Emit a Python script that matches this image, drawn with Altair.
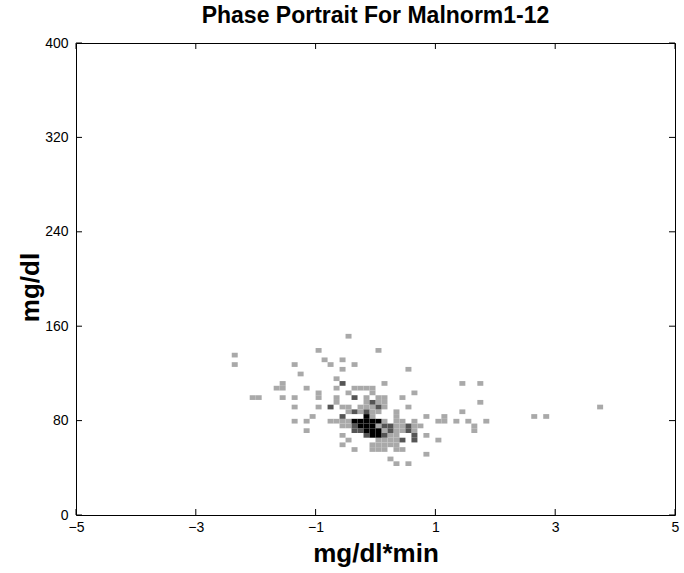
import altair as alt
import pandas as pd

# Axis ticks
x_ticks = [-5, -3, -1, 1, 3, 5]
y_ticks = [0, 80, 160, 240, 320, 400]

# 2-D histogram cells (centre in mg/dl*min, centre in mg/dl)
light_cells = [
    (-2.35, 135.5), (-2.35, 127.5), (-0.95, 139.5), (-0.85, 131.5), (-0.75, 127.5),
    (-1.35, 127.5), (-1.25, 119.5), (-1.55, 111.5), (-1.65, 107.5), (-1.55, 107.5),
    (-1.15, 107.5), (-2.05, 99.5), (-1.95, 99.5), (-1.55, 99.5), (-1.35, 99.5),
    (-0.95, 103.5), (-0.95, 99.5), (-1.35, 91.5), (-0.95, 91.5), (-1.05, 83.5),
    (-1.35, 79.5), (-1.15, 79.5), (-1.15, 71.5),
    (-0.45, 151.5), (0.05, 139.5), (-0.55, 131.5), (-0.55, 123.5), (-0.35, 127.5),
    (0.55, 123.5), (-0.65, 115.5), (0.15, 111.5), (-0.65, 107.5), (-0.35, 107.5),
    (-0.25, 107.5), (-0.15, 107.5), (-0.05, 107.5), (-0.05, 103.5), (-0.45, 103.5),
    (0.65, 103.5),
    (-0.65, 99.5), (-0.65, 95.5), (-0.15, 99.5), (-0.15, 95.5), (-0.15, 91.5),
    (0.05, 99.5), (0.15, 99.5), (0.05, 95.5), (0.15, 95.5), (0.45, 99.5),
    (-0.55, 91.5), (-0.45, 91.5), (-0.25, 91.5), (-0.05, 91.5), (0.15, 91.5), (0.55, 91.5),
    (-0.45, 87.5), (-0.25, 87.5), (-0.05, 87.5), (0.05, 87.5), (0.35, 87.5),
    (-0.05, 83.5), (0.35, 83.5),
    (-0.75, 79.5), (-0.65, 79.5), (-0.55, 79.5), (-0.45, 79.5), (0.15, 79.5),
    (0.35, 79.5), (0.45, 79.5), (0.65, 79.5),
    (-0.55, 75.5), (-0.45, 75.5), (0.05, 75.5), (0.35, 75.5), (0.45, 75.5),
    (0.65, 75.5), (0.75, 75.5),
    (0.15, 71.5), (0.35, 71.5), (0.45, 71.5), (0.65, 71.5),
    (-0.55, 67.5), (0.25, 67.5), (0.35, 67.5),
    (-0.45, 63.5), (0.05, 63.5), (0.15, 63.5), (0.25, 63.5), (0.35, 63.5),
    (-0.55, 59.5), (-0.05, 59.5), (0.05, 59.5), (0.15, 59.5), (0.25, 59.5), (0.35, 59.5),
    (-0.35, 55.5), (-0.05, 55.5), (0.05, 55.5), (0.15, 55.5), (0.35, 55.5), (0.45, 55.5),
    (0.25, 47.5), (0.35, 43.5), (0.55, 43.5),
    (1.45, 111.5), (1.75, 111.5), (1.75, 95.5), (1.45, 87.5), (0.85, 83.5),
    (1.15, 83.5), (1.05, 79.5), (1.15, 79.5), (1.35, 79.5), (1.55, 79.5),
    (1.65, 75.5), (1.65, 71.5), (1.85, 79.5), (2.65, 83.5), (2.85, 83.5),
    (3.75, 91.5), (0.85, 67.5), (1.05, 63.5), (0.85, 51.5),
]
dark_cells = [
    (-0.55, 111.5), (-0.35, 99.5), (-0.05, 95.5), (-0.75, 91.5), (0.05, 91.5),
    (-0.35, 87.5), (-0.15, 87.5), (-0.55, 83.5), (-0.35, 75.5), (-0.35, 71.5),
    (-0.25, 71.5), (0.15, 75.5), (0.25, 75.5), (0.25, 71.5), (0.55, 75.5),
    (0.55, 71.5), (-0.15, 67.5), (0.15, 67.5), (0.45, 63.5), (0.65, 67.5), (0.65, 63.5),
]
black_cells = [
    (-0.15, 83.5), (-0.35, 79.5), (-0.25, 79.5), (-0.15, 79.5), (-0.05, 79.5),
    (0.05, 79.5), (-0.25, 75.5), (-0.15, 75.5), (-0.05, 75.5), (-0.15, 71.5),
    (-0.05, 71.5), (0.05, 71.5), (-0.05, 67.5), (0.05, 67.5),
]
levels = [1, 2, 3]
level_colors = ["#a9a9a9", "#555555", "#000000"]

rows = []
for lev, cells in zip(levels, [light_cells, dark_cells, black_cells]):
    for cx, cy in cells:
        rows.append({"x": cx, "y": cy, "level": lev})
df = pd.DataFrame(rows)

W, H = 599, 472
FONT = "Liberation Sans"

xscale = alt.Scale(domain=[-5, 5], nice=False, zero=False)
yscale = alt.Scale(domain=[0, 400], nice=False, zero=False)

x_axis = alt.Axis(values=x_ticks, title="mg/dl*min", labelFlush=False,
                  labelOverlap=False, labelPadding=5, ticks=False, domain=False, grid=False,
                  labelFont=FONT, labelFontSize=14, labelColor="black",
                  titleFont=FONT, titleFontSize=26, titleFontWeight="bold", titleColor="black",
                  titleY=46, titleBaseline="alphabetic")
y_axis = alt.Axis(values=y_ticks, title="mg/dl", labelFlush=False,
                  labelOverlap=False, labelPadding=8, ticks=False, domain=False, grid=False,
                  labelFont=FONT, labelFontSize=14, labelColor="black",
                  titleFont=FONT, titleFontSize=26, titleFontWeight="bold", titleColor="black",
                  titleX=-38, titleY=H / 2 + 8, titleBaseline="alphabetic")

cells = (
    alt.Chart(df)
    .transform_calculate(
        px="datum.x - 0.05", px2="datum.x + 0.05",
        py="datum.y - 2", py2="datum.y + 2",
    )
    .mark_rect(strokeWidth=0)
    .encode(
        x=alt.X("px:Q", scale=xscale, axis=x_axis),
        x2="px2:Q",
        y=alt.Y("py:Q", scale=yscale, axis=y_axis),
        y2="py2:Q",
        color=alt.Color("level:O", scale=alt.Scale(domain=levels, range=level_colors),
                        legend=None),
    )
)

xt = pd.DataFrame({"px": x_ticks})
yt = pd.DataFrame({"py": y_ticks})
tick_len = 6
xb = alt.Chart(xt).mark_rule(color="black", strokeWidth=1).encode(
    x=alt.X("px:Q", scale=xscale, axis=x_axis), y=alt.value(H), y2=alt.value(H - tick_len))
xtop = alt.Chart(xt).mark_rule(color="black", strokeWidth=1).encode(
    x=alt.X("px:Q", scale=xscale, axis=x_axis), y=alt.value(0), y2=alt.value(tick_len))
yl = alt.Chart(yt).mark_rule(color="black", strokeWidth=1).encode(
    y=alt.Y("py:Q", scale=yscale, axis=y_axis), x=alt.value(0), x2=alt.value(tick_len))
yr = alt.Chart(yt).mark_rule(color="black", strokeWidth=1).encode(
    y=alt.Y("py:Q", scale=yscale, axis=y_axis), x=alt.value(W), x2=alt.value(W - tick_len))

chart = (
    alt.layer(cells, xb, xtop, yl, yr)
    .properties(
        width=W, height=H,
        autosize=alt.AutoSizeParams(type="none"),
        padding={"left": 76, "top": 43, "right": 9, "bottom": 58},
        background="white",
        title=alt.TitleParams("Phase Portrait For Malnorm1-12", font=FONT, fontSize=23,
                              fontWeight="bold", color="black", anchor="middle", offset=8),
    )
    .configure_view(stroke="black", strokeWidth=1)
)

chart.save("out.html", embed_options={"renderer": "svg", "actions": False})
